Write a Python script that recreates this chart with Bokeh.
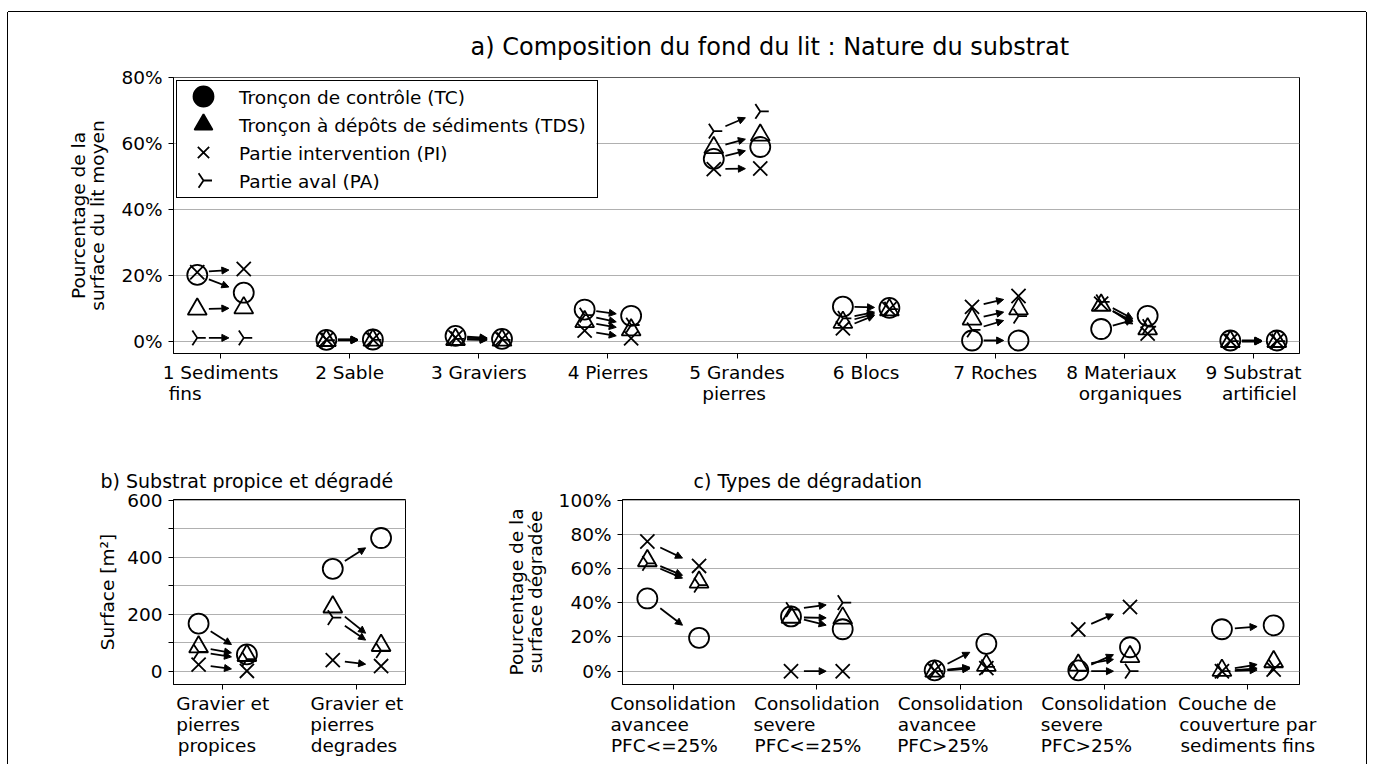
import math
from bokeh.plotting import figure
from bokeh.models import (Range1d, FixedTicker, Arrow, NormalHead, ColumnDataSource,
                          Legend, LegendItem, Title, BoxAnnotation)
from bokeh.layouts import column, row
from bokeh.embed import file_html
from bokeh.resources import INLINE

FONT = "DejaVu Sans"
FS = "18.5px"
NB = "\u00a0"

# ---------------- data ----------------
legend_labels = ["Tronçon de contrôle (TC)", "Tronçon à dépôts de sédiments (TDS)",
                 "Partie intervention (PI)", "Partie aval (PA)"]

# a) Composition du fond du lit (percent)
cats_a = ["1 Sediments\n" + NB + "fins", "2 Sable", "3 Graviers", "4 Pierres",
          "5 Grandes\n" + NB * 2 + "pierres", "6 Blocs", "7 Roches",
          "8 Materiaux\n" + NB * 2 + "organiques", "9 Substrat\n" + NB * 3 + "artificiel"]
a_tc_before = [20.2, 0.5, 1.7, 9.7, 55.4, 10.6, 0.3, 3.8, 0.3]
a_tc_after = [14.8, 0.6, 0.8, 7.8, 59.0, 10.2, 0.3, 7.8, 0.3]
a_tds_before = [9.8, 0.3, 0.6, 6.0, 58.8, 5.8, 6.8, 11.0, 0.0]
a_tds_after = [10.2, 0.4, 0.4, 3.5, 62.6, 9.6, 9.9, 3.8, 0.0]
a_pi_before = [21.0, 0.6, 1.2, 3.3, 52.3, 4.0, 10.5, 11.5, 0.2]
a_pi_after = [22.0, 0.6, 0.8, 1.0, 52.5, 9.8, 13.8, 2.4, 0.2]
a_pa_before = [1.1, 0.4, 0.8, 8.0, 63.8, 7.0, 3.5, 12.0, 0.1]
a_pa_after = [1.1, 0.5, 0.5, 5.0, 69.8, 9.8, 7.7, 4.5, 0.1]

# b) Substrat propice et degrade (m2)
cats_b = ["Gravier et\npierres\npropices", "Gravier et\npierres\ndegrades"]
b_tc_before = [167, 359]
b_tc_after = [59, 467]
b_tds_before = [85, 225]
b_tds_after = [55, 90]
b_pi_before = [23, 39]
b_pi_after = [1, 18]
b_pa_before = [68, 188]
b_pa_after = [42, 72]

# c) Types de degradation (percent)
cats_c = ["Consolidation\navancee\nPFC<=25%", "Consolidation\nsevere\nPFC<=25%",
          "Consolidation\navancee\nPFC>25%", "Consolidation\nsevere\nPFC>25%",
          "Couche de\ncouverture par\nsediments fins"]
c_tc_before = [42.5, 32.0, 0.5, 0.5, 24.5]
c_tc_after = [19.5, 24.5, 16.0, 14.0, 26.8]
c_tds_before = [64.5, 31.5, 0.0, 3.5, 0.5]
c_tds_after = [52.0, 31.0, 3.4, 8.5, 5.5]
c_pi_before = [75.8, 0.0, 0.5, 24.4, 0.0]
c_pi_after = [61.5, 0.0, 1.8, 37.5, 1.0]
c_pa_before = [63.0, 36.0, 0.0, 0.0, 0.0]
c_pa_after = [50.3, 40.0, 2.5, 0.0, 2.5]

yticks_a = [0, 20, 40, 60, 80]
yticks_b = [0, 100, 200, 300, 400, 500, 600]
yticks_b_labelled = [0, 200, 400, 600]
yticks_c = [0, 20, 40, 60, 80, 100]

# ---------------- style ----------------
DX = 0.18
T0, T1 = 0.25, 0.68
MARKERS = [("circle", 20, 0.0), ("triangle", 19, 0.0), ("x", 20, 0.0), ("y", 17, math.pi / 2)]
LEG_SIZES = [20, 18, 16, 17]

# approximate DejaVu Sans advance widths (em) used to left-align multi-line tick labels
_CW = {' ': .318, NB: .318, '%': .950, '(': .390, ')': .390, '<': .838, '=': .838, '>': .838,
       'a': .613, 'b': .635, 'c': .550, 'd': .635, 'e': .615, 'f': .352, 'g': .635, 'h': .634,
       'i': .278, 'j': .278, 'k': .579, 'l': .278, 'm': .974, 'n': .634, 'o': .612, 'p': .635,
       'q': .635, 'r': .411, 's': .521, 't': .392, 'u': .634, 'v': .592, 'w': .818, 'x': .592,
       'y': .592, 'z': .525, 'C': .698, 'F': .575, 'G': .775, 'M': .863, 'P': .603, 'S': .635}


def _w(s):
    return sum(_CW.get(ch, .636 if ch.isdigit() else .6) for ch in s)


def left_align(label):
    lines = label.split("\n")
    if len(lines) == 1:
        return label
    mw = max(_w(l) for l in lines)
    return "\n".join(l + NB * int(round((mw - _w(l)) / .318)) for l in lines)


def make_fig(width, height, mbl, mbr, mbt, mbb, xr, yr, ylab_standoff=10):
    p = figure(width=width, height=height, x_range=Range1d(*xr), y_range=Range1d(*yr),
               output_backend="svg", toolbar_location=None,
               min_border_left=mbl, min_border_right=mbr, min_border_top=mbt, min_border_bottom=mbb,
               background_fill_color="white", border_fill_color="white")
    p.outline_line_color = "black"
    p.outline_line_width = 1
    p.outline_line_alpha = 1
    p.xgrid.grid_line_color = None
    p.ygrid.grid_line_color = "#b0b0b0"
    p.ygrid.grid_line_width = 1.1
    for ax in (p.xaxis[0], p.yaxis[0]):
        ax.axis_line_color = "black"
        ax.major_tick_line_color = "black"
        ax.major_tick_out = 5
        ax.major_tick_in = 0
        ax.minor_tick_line_color = None
        ax.major_label_text_font = FONT
        ax.major_label_text_font_size = FS
        ax.major_label_text_color = "black"
        ax.axis_label_text_font = FONT
        ax.axis_label_text_font_size = FS
        ax.axis_label_text_font_style = "normal"
        ax.axis_label_text_color = "black"
    p.yaxis.major_label_standoff = 6
    p.yaxis.axis_label_standoff = ylab_standoff
    p.yaxis.axis_label_text_line_height = 0.9
    p.xaxis.major_label_standoff = 3
    p.xaxis.major_label_text_line_height = 1.0
    return p


def draw_panel(p, cats, befores, afters, yticks, ylabels, ylabel):
    n = len(cats)
    p.xaxis.ticker = FixedTicker(ticks=list(range(n)))
    p.xaxis.major_label_overrides = {i: left_align(c) for i, c in enumerate(cats)}
    p.yaxis.ticker = FixedTicker(ticks=yticks)
    p.yaxis.major_label_overrides = ylabels
    p.yaxis.axis_label = ylabel
    for (marker, size, ang), b, a in zip(MARKERS, befores, afters):
        xs = [i - DX for i in range(n)] + [i + DX for i in range(n)]
        ys = list(b) + list(a)
        p.scatter(x=xs, y=ys, marker=marker, size=size, angle=ang, fill_color=None,
                  line_color="black", line_width=1.8)
    x0, y0, x1, y1 = [], [], [], []
    for b, a in zip(befores, afters):
        for i in range(n):
            xb, xa = i - DX, i + DX
            x0.append(xb + T0 * (xa - xb)); y0.append(b[i] + T0 * (a[i] - b[i]))
            x1.append(xb + T1 * (xa - xb)); y1.append(b[i] + T1 * (a[i] - b[i]))
    src = ColumnDataSource(dict(x0=x0, y0=y0, x1=x1, y1=y1))
    p.add_layout(Arrow(end=NormalHead(size=7, fill_color="black", line_color="black", line_width=1),
                       x_start="x0", y_start="y0", x_end="x1", y_end="y1", source=src,
                       line_width=1.8, line_color="black"))


# ---------------- panel a ----------------
W = 1358
FRAME_A = (173, 77, 1126, 276)   # page px: left, top, width, height
xr_a = (-0.364, 8.356)
yr_a = (-3.64, 80.09)
pa = make_fig(W, 437, 165, 67, 65, 96, xr_a, yr_a)
draw_panel(pa, cats_a, [a_tc_before, a_tds_before, a_pi_before, a_pa_before],
           [a_tc_after, a_tds_after, a_pi_after, a_pa_after], yticks_a,
           {t: f"{t}%" for t in yticks_a}, "Pourcentage de la\nsurface du lit moyen")
pa.add_layout(Title(text="a) Composition du fond du lit : Nature du substrat", align="left",
                    offset=297, standoff=34, text_font=FONT, text_font_size="24px",
                    text_font_style="normal", text_color="black"), "above")


def ax_px(px):
    return xr_a[0] + (px - FRAME_A[0]) / FRAME_A[2] * (xr_a[1] - xr_a[0])


def ay_px(py):
    return yr_a[1] - (py - FRAME_A[1]) / FRAME_A[3] * (yr_a[1] - yr_a[0])


# legend geometry (screen px): margin 3, padding 2, glyph 50x28, label area 356 wide
LM, LP, GW, GH, LW, LS = 3, 2, 50, 28, 356, 10
leg_left = FRAME_A[0] + LM
leg_top = FRAME_A[1] + LM
leg_right = leg_left + 2 * LP + GW + LS + LW
leg_bottom = leg_top + 2 * LP + 4 * GH
pa.add_layout(BoxAnnotation(left=ax_px(leg_left), right=ax_px(leg_right), top=ay_px(leg_top),
                            bottom=ay_px(leg_bottom), fill_color="white", fill_alpha=1,
                            line_color=None, level="underlay"))
items = []
for (marker, size, ang), lab in zip(MARKERS, legend_labels):
    r = pa.scatter(x=[float("nan")], y=[float("nan")], marker=marker, size=size,
                   fill_alpha=0, line_alpha=0)
    items.append(LegendItem(label=lab, renderers=[r]))
leg = Legend(items=items, location="top_left", margin=LM, glyph_width=GW, glyph_height=GH,
             spacing=0, padding=LP, label_standoff=LS, label_height=GH, label_width=LW,
             label_text_font=FONT, label_text_font_size=FS, label_text_color="black",
             border_line_color="black", border_line_width=1, border_line_alpha=1,
             background_fill_alpha=0)
pa.add_layout(leg, "center")
for k, ((marker, size, ang), lsz) in enumerate(zip(MARKERS, LEG_SIZES)):
    gx = ax_px(leg_left + LP + GW / 2)
    gy = ay_px(leg_top + LP + GH / 2 + GH * k)
    pa.scatter(x=[gx], y=[gy], marker=marker, size=lsz, angle=ang, fill_color="black",
               line_color="black", line_width=1.8)

# ---------------- panel b ----------------
H2 = 315
pb = make_fig(457, H2, 165, 60, 50, 80, (-0.367, 1.362), (-46.6, 602), ylab_standoff=6)
draw_panel(pb, cats_b, [b_tc_before, b_tds_before, b_pi_before, b_pa_before],
           [b_tc_after, b_tds_after, b_pi_after, b_pa_after], yticks_b,
           {t: (str(t) if t in yticks_b_labelled else "") for t in yticks_b},
           "Surface [m²]")
pb.add_layout(Title(text="b) Substrat propice et dégradé", align="left", offset=-73, standoff=15,
                    text_font=FONT, text_font_size="19px", text_font_style="normal",
                    text_color="black"), "above")

# ---------------- panel c ----------------
pc = make_fig(W - 457, H2, 157, 67, 50, 80, (-0.353, 4.36), (-7.77, 100.3))
draw_panel(pc, cats_c, [c_tc_before, c_tds_before, c_pi_before, c_pa_before],
           [c_tc_after, c_tds_after, c_pi_after, c_pa_after], yticks_c,
           {t: f"{t}%" for t in yticks_c}, "Pourcentage de la\nsurface dégradée")
pc.add_layout(Title(text="c) Types de dégradation", align="left", offset=71, standoff=15,
                    text_font=FONT, text_font_size="19px", text_font_style="normal",
                    text_color="black"), "above")

layout = column(pa, row(pb, pc), margin=(12, 0, 0, 8),
                styles={"box-shadow": "0 -1px 0 0 #000, -1px 0 0 0 #000, 1px 0 0 0 #000"})

open("out.html", "w").write(file_html(layout, INLINE))
